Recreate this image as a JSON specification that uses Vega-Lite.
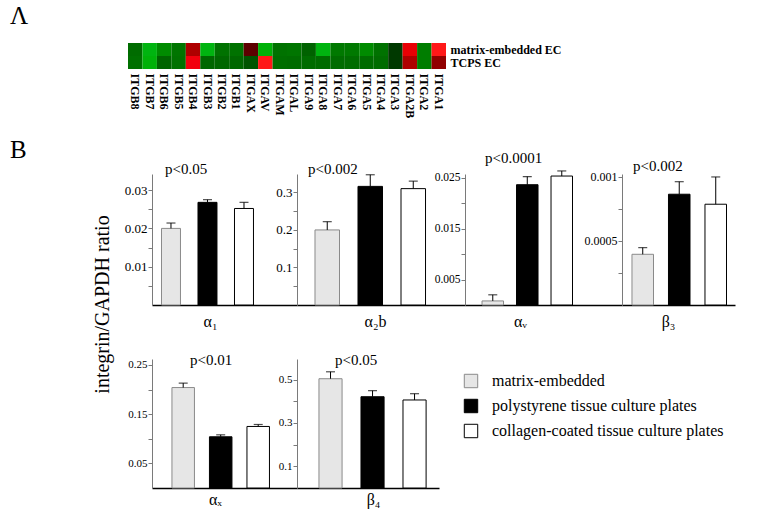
{
"$schema": "https://vega.github.io/schema/vega-lite/v6.json",
"padding": {"left": 10, "top": 4, "right": 5, "bottom": 5},
"background": "white",
"config": {"view": {"stroke": null}, "font": "Liberation Serif"},
"datasets": {
"heat": [
{"gene":"ITGB8","row":"matrix-embedded EC","value":-0.55},{"gene":"ITGB7","row":"matrix-embedded EC","value":-0.94},{"gene":"ITGB6","row":"matrix-embedded EC","value":-0.72},{"gene":"ITGB5","row":"matrix-embedded EC","value":-0.6},{"gene":"ITGB4","row":"matrix-embedded EC","value":0.55},{"gene":"ITGB3","row":"matrix-embedded EC","value":-0.94},{"gene":"ITGB2","row":"matrix-embedded EC","value":-0.58},{"gene":"ITGB1","row":"matrix-embedded EC","value":-0.58},{"gene":"ITGAX","row":"matrix-embedded EC","value":0.05},{"gene":"ITGAV","row":"matrix-embedded EC","value":-0.92},{"gene":"ITGAM","row":"matrix-embedded EC","value":-0.58},{"gene":"ITGAL","row":"matrix-embedded EC","value":-0.6},{"gene":"ITGA9","row":"matrix-embedded EC","value":-0.49},{"gene":"ITGA8","row":"matrix-embedded EC","value":-0.94},{"gene":"ITGA7","row":"matrix-embedded EC","value":-0.62},{"gene":"ITGA6","row":"matrix-embedded EC","value":-0.62},{"gene":"ITGA5","row":"matrix-embedded EC","value":-0.72},{"gene":"ITGA4","row":"matrix-embedded EC","value":-0.58},{"gene":"ITGA3","row":"matrix-embedded EC","value":-0.25},{"gene":"ITGA2B","row":"matrix-embedded EC","value":0.87},{"gene":"ITGA2","row":"matrix-embedded EC","value":-0.64},{"gene":"ITGA1","row":"matrix-embedded EC","value":1.0},
{"gene":"ITGB8","row":"TCPS EC","value":-0.57},{"gene":"ITGB7","row":"TCPS EC","value":-0.92},{"gene":"ITGB6","row":"TCPS EC","value":-0.5},{"gene":"ITGB5","row":"TCPS EC","value":-0.58},{"gene":"ITGB4","row":"TCPS EC","value":0.93},{"gene":"ITGB3","row":"TCPS EC","value":-0.52},{"gene":"ITGB2","row":"TCPS EC","value":-0.52},{"gene":"ITGB1","row":"TCPS EC","value":-0.52},{"gene":"ITGAX","row":"TCPS EC","value":-0.42},{"gene":"ITGAV","row":"TCPS EC","value":1.0},{"gene":"ITGAM","row":"TCPS EC","value":-0.56},{"gene":"ITGAL","row":"TCPS EC","value":-0.55},{"gene":"ITGA9","row":"TCPS EC","value":-0.55},{"gene":"ITGA8","row":"TCPS EC","value":-0.55},{"gene":"ITGA7","row":"TCPS EC","value":-0.55},{"gene":"ITGA6","row":"TCPS EC","value":-0.55},{"gene":"ITGA5","row":"TCPS EC","value":-0.55},{"gene":"ITGA4","row":"TCPS EC","value":-0.55},{"gene":"ITGA3","row":"TCPS EC","value":-0.25},{"gene":"ITGA2B","row":"TCPS EC","value":0.55},{"gene":"ITGA2","row":"TCPS EC","value":-0.64},{"gene":"ITGA1","row":"TCPS EC","value":0.38}
],
"bars": [
{"panel":"a1","condition":"matrix-embedded","mean":0.020,"upper":0.0214},
{"panel":"a1","condition":"polystyrene tissue culture plates","mean":0.0268,"upper":0.0275},
{"panel":"a1","condition":"collagen-coated tissue culture plates","mean":0.0252,"upper":0.0268},
{"panel":"a2b","condition":"matrix-embedded","mean":0.200,"upper":0.222},
{"panel":"a2b","condition":"polystyrene tissue culture plates","mean":0.316,"upper":0.347},
{"panel":"a2b","condition":"collagen-coated tissue culture plates","mean":0.310,"upper":0.330},
{"panel":"aV","condition":"matrix-embedded","mean":0.0008,"upper":0.002},
{"panel":"aV","condition":"polystyrene tissue culture plates","mean":0.0236,"upper":0.0252},
{"panel":"aV","condition":"collagen-coated tissue culture plates","mean":0.0253,"upper":0.0263},
{"panel":"b3","condition":"matrix-embedded","mean":0.000396,"upper":0.000448},
{"panel":"b3","condition":"polystyrene tissue culture plates","mean":0.000865,"upper":0.000963},
{"panel":"b3","condition":"collagen-coated tissue culture plates","mean":0.000787,"upper":0.001},
{"panel":"aX","condition":"matrix-embedded","mean":0.204,"upper":0.213},
{"panel":"aX","condition":"polystyrene tissue culture plates","mean":0.104,"upper":0.108},
{"panel":"aX","condition":"collagen-coated tissue culture plates","mean":0.125,"upper":0.129},
{"panel":"b4","condition":"matrix-embedded","mean":0.504,"upper":0.536},
{"panel":"b4","condition":"polystyrene tissue culture plates","mean":0.421,"upper":0.449},
{"panel":"b4","condition":"collagen-coated tissue culture plates","mean":0.406,"upper":0.435}
]
},
"bounds": "flush",
"spacing": 105,
"resolve": {"scale": {"fill": "independent", "stroke": "independent"}, "legend": {"fill": "independent", "stroke": "independent"}},
"vconcat": [
{
"width": 318, "height": 26,
"title": {"text": "Λ", "anchor": "start", "frame": "group", "dx": -118, "offset": -6, "baseline": "alphabetic", "fontSize": 25, "font": "Liberation Serif", "fontWeight": "normal", "color": "#000"},
"data": {"name": "heat"},
"mark": "rect",
"encoding": {
"x": {"field": "gene", "type": "nominal", "sort": ["ITGB8","ITGB7","ITGB6","ITGB5","ITGB4","ITGB3","ITGB2","ITGB1","ITGAX","ITGAV","ITGAM","ITGAL","ITGA9","ITGA8","ITGA7","ITGA6","ITGA5","ITGA4","ITGA3","ITGA2B","ITGA2","ITGA1"], "scale": {"padding": 0}, "axis": {"orient": "bottom", "labelAngle": 90, "ticks": false, "domain": false, "title": null, "labelFont": "Liberation Serif", "labelFontWeight": "bold", "labelFontSize": 12, "labelColor": "#000", "labelPadding": 4}},
"y": {"field": "row", "type": "nominal", "sort": ["matrix-embedded EC","TCPS EC"], "scale": {"padding": 0}, "axis": {"orient": "right", "ticks": false, "domain": false, "title": null, "labelFont": "Liberation Serif", "labelFontWeight": "bold", "labelFontSize": 12, "labelColor": "#000", "labelPadding": 4}},
"fill": {"field": "value", "type": "quantitative", "scale": {"domain": [-1, 0, 1], "range": ["#22c022", "#000000", "#ff1818"]}, "legend": null}
}
},
{
"bounds": "flush",
"align": "none",
"columns": 5,
"spacing": {"row": 54, "column": 0},
"resolve": {"scale": {"fill": "independent", "stroke": "independent"}, "legend": {"fill": "independent", "stroke": "independent"}},
"concat": [
{"width": 24, "height": 131, "title": {"text": "B", "anchor": "start", "frame": "group", "dx": -118, "offset": -9, "baseline": "alphabetic", "fontSize": 25, "font": "Liberation Serif", "fontWeight": "normal", "color": "#000"}, "data": {"values": []}, "mark": "text", "encoding": {}},
{
"width": 145, "height": 131,
"data": {"name": "bars"},
"transform": [{"filter": "datum.panel === 'a1'"}],
"title": {"text": "p<0.05", "anchor": "start", "frame": "group", "dx": 13, "offset": -15, "baseline": "alphabetic", "fontSize": 15, "font": "Liberation Serif", "fontWeight": "normal", "color": "#000"},
"encoding": {"x": {"field": "condition", "type": "nominal", "sort": null, "scale": {"domain": ["matrix-embedded","polystyrene tissue culture plates","collagen-coated tissue culture plates"], "paddingInner": 0.48, "paddingOuter": 0.726, "align": 0.179}, "axis": {"labels": false, "ticks": false, "domainColor": "#000", "domainWidth": 1.5, "title": "α₁", "titleX": 58, "titleY": 21, "titleFont": "Liberation Serif", "titleFontSize": 16, "titleFontWeight": "normal", "titleColor": "#000", "titleBaseline": "alphabetic", "titleAlign": "center"}}},
"layer": [
{"mark": {"type": "bar", "strokeWidth": 1}, "encoding": {
"y": {"field": "mean", "type": "quantitative", "scale": {"domain": [0, 0.0342], "nice": false}, "axis": {"values": [0.005,0.01,0.015,0.02,0.025,0.03], "labelExpr": "indexof([0.01,0.02,0.03], datum.value) >= 0 ? format(datum.value, '~g') : ''", "grid": false, "domainColor": "#7a7a7a", "tickColor": "#7a7a7a", "tickSize": 4, "labelColor": "#000", "labelFont": "Liberation Serif", "labelFontSize": 13, "labelPadding": 1, "title": "integrin/GAPDH ratio", "titleX": -50, "titleY": 130, "titleAngle": 270, "titleAlign": "center", "titleBaseline": "middle", "titleFont": "Liberation Serif", "titleFontSize": 20, "titleFontWeight": "normal", "titleColor": "#000"}},
"fill": {"field": "condition", "type": "nominal", "scale": {"domain": ["matrix-embedded","polystyrene tissue culture plates","collagen-coated tissue culture plates"], "range": ["#e6e6e6","#000000","#ffffff"]}, "legend": null},
"stroke": {"field": "condition", "type": "nominal", "scale": {"domain": ["matrix-embedded","polystyrene tissue culture plates","collagen-coated tissue culture plates"], "range": ["#8a8a8a","#000000","#000000"]}, "legend": null}}},
{"mark": {"type": "rule", "color": "#000", "strokeWidth": 1}, "encoding": {
"y": {"field": "mean", "type": "quantitative", "scale": {"domain": [0, 0.0342], "nice": false}, "axis": {"values": [0.005,0.01,0.015,0.02,0.025,0.03], "labelExpr": "indexof([0.01,0.02,0.03], datum.value) >= 0 ? format(datum.value, '~g') : ''", "grid": false, "domainColor": "#7a7a7a", "tickColor": "#7a7a7a", "tickSize": 4, "labelColor": "#000", "labelFont": "Liberation Serif", "labelFontSize": 13, "labelPadding": 1, "title": "integrin/GAPDH ratio", "titleX": -50, "titleY": 130, "titleAngle": 270, "titleAlign": "center", "titleBaseline": "middle", "titleFont": "Liberation Serif", "titleFontSize": 20, "titleFontWeight": "normal", "titleColor": "#000"}},
"y2": {"field": "upper"}}},
{"mark": {"type": "tick", "color": "#000", "size": 9, "thickness": 1.2}, "encoding": {
"y": {"field": "upper", "type": "quantitative", "scale": {"domain": [0, 0.0342], "nice": false}, "axis": {"values": [0.005,0.01,0.015,0.02,0.025,0.03], "labelExpr": "indexof([0.01,0.02,0.03], datum.value) >= 0 ? format(datum.value, '~g') : ''", "grid": false, "domainColor": "#7a7a7a", "tickColor": "#7a7a7a", "tickSize": 4, "labelColor": "#000", "labelFont": "Liberation Serif", "labelFontSize": 13, "labelPadding": 1, "title": "integrin/GAPDH ratio", "titleX": -50, "titleY": 130, "titleAngle": 270, "titleAlign": "center", "titleBaseline": "middle", "titleFont": "Liberation Serif", "titleFontSize": 20, "titleFontWeight": "normal", "titleColor": "#000"}}}}
]
},
{
"width": 168, "height": 131,
"data": {"name": "bars"},
"transform": [{"filter": "datum.panel === 'a2b'"}],
"title": {"text": "p<0.002", "anchor": "start", "frame": "group", "dx": 11, "offset": -15, "baseline": "alphabetic", "fontSize": 15, "font": "Liberation Serif", "fontWeight": "normal", "color": "#000"},
"encoding": {"x": {"field": "condition", "type": "nominal", "sort": null, "scale": {"domain": ["matrix-embedded","polystyrene tissue culture plates","collagen-coated tissue culture plates"], "paddingInner": 0.43, "paddingOuter": 0.668, "align": 0.313}, "axis": {"labels": false, "ticks": false, "domainColor": "#000", "domainWidth": 1.5, "title": "α₂b", "titleX": 78, "titleY": 21, "titleFont": "Liberation Serif", "titleFontSize": 16, "titleFontWeight": "normal", "titleColor": "#000", "titleBaseline": "alphabetic", "titleAlign": "center"}}},
"layer": [
{"mark": {"type": "bar", "strokeWidth": 1}, "encoding": {
"y": {"field": "mean", "type": "quantitative", "scale": {"domain": [0, 0.349], "nice": false}, "axis": {"values": [0.05,0.1,0.15,0.2,0.25,0.3], "labelExpr": "indexof([0.1,0.2,0.3], datum.value) >= 0 ? format(datum.value, '~g') : ''", "grid": false, "domainColor": "#7a7a7a", "tickColor": "#7a7a7a", "tickSize": 4, "labelColor": "#000", "labelFont": "Liberation Serif", "labelFontSize": 13, "labelPadding": 1, "title": null}},
"fill": {"field": "condition", "type": "nominal", "scale": {"domain": ["matrix-embedded","polystyrene tissue culture plates","collagen-coated tissue culture plates"], "range": ["#e6e6e6","#000000","#ffffff"]}, "legend": null},
"stroke": {"field": "condition", "type": "nominal", "scale": {"domain": ["matrix-embedded","polystyrene tissue culture plates","collagen-coated tissue culture plates"], "range": ["#8a8a8a","#000000","#000000"]}, "legend": null}}},
{"mark": {"type": "rule", "color": "#000", "strokeWidth": 1}, "encoding": {
"y": {"field": "mean", "type": "quantitative", "scale": {"domain": [0, 0.349], "nice": false}, "axis": {"values": [0.05,0.1,0.15,0.2,0.25,0.3], "labelExpr": "indexof([0.1,0.2,0.3], datum.value) >= 0 ? format(datum.value, '~g') : ''", "grid": false, "domainColor": "#7a7a7a", "tickColor": "#7a7a7a", "tickSize": 4, "labelColor": "#000", "labelFont": "Liberation Serif", "labelFontSize": 13, "labelPadding": 1, "title": null}},
"y2": {"field": "upper"}}},
{"mark": {"type": "tick", "color": "#000", "size": 9, "thickness": 1.2}, "encoding": {
"y": {"field": "upper", "type": "quantitative", "scale": {"domain": [0, 0.349], "nice": false}, "axis": {"values": [0.05,0.1,0.15,0.2,0.25,0.3], "labelExpr": "indexof([0.1,0.2,0.3], datum.value) >= 0 ? format(datum.value, '~g') : ''", "grid": false, "domainColor": "#7a7a7a", "tickColor": "#7a7a7a", "tickSize": 4, "labelColor": "#000", "labelFont": "Liberation Serif", "labelFontSize": 13, "labelPadding": 1, "title": null}}}}
]
},
{
"width": 157, "height": 131,
"data": {"name": "bars"},
"transform": [{"filter": "datum.panel === 'aV'"}],
"title": {"text": "p<0.0001", "anchor": "start", "frame": "group", "dx": 20, "offset": -8, "baseline": "alphabetic", "fontSize": 15, "font": "Liberation Serif", "fontWeight": "normal", "color": "#000"},
"encoding": {"x": {"field": "condition", "type": "nominal", "sort": null, "scale": {"domain": ["matrix-embedded","polystyrene tissue culture plates","collagen-coated tissue culture plates"], "paddingInner": 0.377, "paddingOuter": 0.964, "align": 0.256}, "axis": {"labels": false, "ticks": false, "domainColor": "#000", "domainWidth": 1.5, "title": "αᵥ", "titleX": 55, "titleY": 21, "titleFont": "Liberation Serif", "titleFontSize": 16, "titleFontWeight": "normal", "titleColor": "#000", "titleBaseline": "alphabetic", "titleAlign": "center"}}},
"layer": [
{"mark": {"type": "bar", "strokeWidth": 1}, "encoding": {
"y": {"field": "mean", "type": "quantitative", "scale": {"domain": [0, 0.0257], "nice": false}, "axis": {"values": [0.005,0.01,0.015,0.02,0.025], "labelExpr": "indexof([0.005,0.015,0.025], datum.value) >= 0 ? format(datum.value, '~g') : ''", "grid": false, "domainColor": "#7a7a7a", "tickColor": "#7a7a7a", "tickSize": 4, "labelColor": "#000", "labelFont": "Liberation Serif", "labelFontSize": 11.5, "labelPadding": 1, "title": null}},
"fill": {"field": "condition", "type": "nominal", "scale": {"domain": ["matrix-embedded","polystyrene tissue culture plates","collagen-coated tissue culture plates"], "range": ["#e6e6e6","#000000","#ffffff"]}, "legend": null},
"stroke": {"field": "condition", "type": "nominal", "scale": {"domain": ["matrix-embedded","polystyrene tissue culture plates","collagen-coated tissue culture plates"], "range": ["#8a8a8a","#000000","#000000"]}, "legend": null}}},
{"mark": {"type": "rule", "color": "#000", "strokeWidth": 1}, "encoding": {
"y": {"field": "mean", "type": "quantitative", "scale": {"domain": [0, 0.0257], "nice": false}, "axis": {"values": [0.005,0.01,0.015,0.02,0.025], "labelExpr": "indexof([0.005,0.015,0.025], datum.value) >= 0 ? format(datum.value, '~g') : ''", "grid": false, "domainColor": "#7a7a7a", "tickColor": "#7a7a7a", "tickSize": 4, "labelColor": "#000", "labelFont": "Liberation Serif", "labelFontSize": 11.5, "labelPadding": 1, "title": null}},
"y2": {"field": "upper"}}},
{"mark": {"type": "tick", "color": "#000", "size": 9, "thickness": 1.2}, "encoding": {
"y": {"field": "upper", "type": "quantitative", "scale": {"domain": [0, 0.0257], "nice": false}, "axis": {"values": [0.005,0.01,0.015,0.02,0.025], "labelExpr": "indexof([0.005,0.015,0.025], datum.value) >= 0 ? format(datum.value, '~g') : ''", "grid": false, "domainColor": "#7a7a7a", "tickColor": "#7a7a7a", "tickSize": 4, "labelColor": "#000", "labelFont": "Liberation Serif", "labelFontSize": 11.5, "labelPadding": 1, "title": null}}}}
]
},
{
"width": 113, "height": 131,
"data": {"name": "bars"},
"transform": [{"filter": "datum.panel === 'b3'"}],
"title": {"text": "p<0.002", "anchor": "start", "frame": "group", "dx": 11, "offset": -15, "baseline": "alphabetic", "fontSize": 15, "font": "Liberation Serif", "fontWeight": "normal", "color": "#000"},
"encoding": {"x": {"field": "condition", "type": "nominal", "sort": null, "scale": {"domain": ["matrix-embedded","polystyrene tissue culture plates","collagen-coated tissue culture plates"], "paddingInner": 0.41, "paddingOuter": 0.253, "align": 0.54}, "axis": {"labels": false, "ticks": false, "domainColor": "#000", "domainWidth": 1.5, "title": "β₃", "titleX": 46, "titleY": 21, "titleFont": "Liberation Serif", "titleFontSize": 16, "titleFontWeight": "normal", "titleColor": "#000", "titleBaseline": "alphabetic", "titleAlign": "center"}}},
"layer": [
{"mark": {"type": "bar", "strokeWidth": 1}, "encoding": {
"y": {"field": "mean", "type": "quantitative", "scale": {"domain": [0, 0.001023], "nice": false}, "axis": {"values": [0.00025,0.0005,0.00075,0.001], "labelExpr": "indexof([0.0005,0.001], datum.value) >= 0 ? format(datum.value, '~g') : ''", "grid": false, "domainColor": "#7a7a7a", "tickColor": "#7a7a7a", "tickSize": 4, "labelColor": "#000", "labelFont": "Liberation Serif", "labelFontSize": 12, "labelPadding": 1, "title": null}},
"fill": {"field": "condition", "type": "nominal", "scale": {"domain": ["matrix-embedded","polystyrene tissue culture plates","collagen-coated tissue culture plates"], "range": ["#e6e6e6","#000000","#ffffff"]}, "legend": null},
"stroke": {"field": "condition", "type": "nominal", "scale": {"domain": ["matrix-embedded","polystyrene tissue culture plates","collagen-coated tissue culture plates"], "range": ["#8a8a8a","#000000","#000000"]}, "legend": null}}},
{"mark": {"type": "rule", "color": "#000", "strokeWidth": 1}, "encoding": {
"y": {"field": "mean", "type": "quantitative", "scale": {"domain": [0, 0.001023], "nice": false}, "axis": {"values": [0.00025,0.0005,0.00075,0.001], "labelExpr": "indexof([0.0005,0.001], datum.value) >= 0 ? format(datum.value, '~g') : ''", "grid": false, "domainColor": "#7a7a7a", "tickColor": "#7a7a7a", "tickSize": 4, "labelColor": "#000", "labelFont": "Liberation Serif", "labelFontSize": 12, "labelPadding": 1, "title": null}},
"y2": {"field": "upper"}}},
{"mark": {"type": "tick", "color": "#000", "size": 9, "thickness": 1.2}, "encoding": {
"y": {"field": "upper", "type": "quantitative", "scale": {"domain": [0, 0.001023], "nice": false}, "axis": {"values": [0.00025,0.0005,0.00075,0.001], "labelExpr": "indexof([0.0005,0.001], datum.value) >= 0 ? format(datum.value, '~g') : ''", "grid": false, "domainColor": "#7a7a7a", "tickColor": "#7a7a7a", "tickSize": 4, "labelColor": "#000", "labelFont": "Liberation Serif", "labelFontSize": 12, "labelPadding": 1, "title": null}}}}
]
},
{"width": 24, "height": 129, "data": {"values": []}, "mark": "text", "encoding": {}},
{
"width": 145, "height": 129,
"data": {"name": "bars"},
"transform": [{"filter": "datum.panel === 'aX'"}],
"title": {"text": "p<0.01", "anchor": "start", "frame": "group", "dx": 38, "offset": -21, "baseline": "alphabetic", "fontSize": 15, "font": "Liberation Serif", "fontWeight": "normal", "color": "#000"},
"encoding": {"x": {"field": "condition", "type": "nominal", "sort": null, "scale": {"domain": ["matrix-embedded","polystyrene tissue culture plates","collagen-coated tissue culture plates"], "paddingInner": 0.4, "paddingOuter": 0.633, "align": 0.42}, "axis": {"labels": false, "ticks": false, "domainColor": "#000", "domainWidth": 1.5, "title": "αₓ", "titleX": 63, "titleY": 16, "titleFont": "Liberation Serif", "titleFontSize": 16, "titleFontWeight": "normal", "titleColor": "#000", "titleBaseline": "alphabetic", "titleAlign": "center"}}},
"layer": [
{"mark": {"type": "bar", "strokeWidth": 1}, "encoding": {
"y": {"field": "mean", "type": "quantitative", "scale": {"domain": [0, 0.262], "nice": false}, "axis": {"values": [0.05,0.1,0.15,0.2,0.25], "labelExpr": "indexof([0.05,0.15,0.25], datum.value) >= 0 ? format(datum.value, '~g') : ''", "grid": false, "domainColor": "#7a7a7a", "tickColor": "#7a7a7a", "tickSize": 4, "labelColor": "#000", "labelFont": "Liberation Serif", "labelFontSize": 11, "labelPadding": 1, "title": null}},
"fill": {"field": "condition", "type": "nominal", "scale": {"domain": ["matrix-embedded","polystyrene tissue culture plates","collagen-coated tissue culture plates"], "range": ["#e6e6e6","#000000","#ffffff"]}, "legend": null},
"stroke": {"field": "condition", "type": "nominal", "scale": {"domain": ["matrix-embedded","polystyrene tissue culture plates","collagen-coated tissue culture plates"], "range": ["#8a8a8a","#000000","#000000"]}, "legend": null}}},
{"mark": {"type": "rule", "color": "#000", "strokeWidth": 1}, "encoding": {
"y": {"field": "mean", "type": "quantitative", "scale": {"domain": [0, 0.262], "nice": false}, "axis": {"values": [0.05,0.1,0.15,0.2,0.25], "labelExpr": "indexof([0.05,0.15,0.25], datum.value) >= 0 ? format(datum.value, '~g') : ''", "grid": false, "domainColor": "#7a7a7a", "tickColor": "#7a7a7a", "tickSize": 4, "labelColor": "#000", "labelFont": "Liberation Serif", "labelFontSize": 11, "labelPadding": 1, "title": null}},
"y2": {"field": "upper"}}},
{"mark": {"type": "tick", "color": "#000", "size": 9, "thickness": 1.2}, "encoding": {
"y": {"field": "upper", "type": "quantitative", "scale": {"domain": [0, 0.262], "nice": false}, "axis": {"values": [0.05,0.1,0.15,0.2,0.25], "labelExpr": "indexof([0.05,0.15,0.25], datum.value) >= 0 ? format(datum.value, '~g') : ''", "grid": false, "domainColor": "#7a7a7a", "tickColor": "#7a7a7a", "tickSize": 4, "labelColor": "#000", "labelFont": "Liberation Serif", "labelFontSize": 11, "labelPadding": 1, "title": null}}}}
]
},
{
"width": 142, "height": 129,
"data": {"name": "bars"},
"transform": [{"filter": "datum.panel === 'b4'"}],
"title": {"text": "p<0.05", "anchor": "start", "frame": "group", "dx": 38, "offset": -21, "baseline": "alphabetic", "fontSize": 15, "font": "Liberation Serif", "fontWeight": "normal", "color": "#000"},
"encoding": {"x": {"field": "condition", "type": "nominal", "sort": null, "scale": {"domain": ["matrix-embedded","polystyrene tissue culture plates","collagen-coated tissue culture plates"], "paddingInner": 0.45, "paddingOuter": 0.415, "align": 0.63}, "axis": {"labels": false, "ticks": false, "domainColor": "#000", "domainWidth": 1.5, "title": "β₄", "titleX": 76, "titleY": 16, "titleFont": "Liberation Serif", "titleFontSize": 16, "titleFontWeight": "normal", "titleColor": "#000", "titleBaseline": "alphabetic", "titleAlign": "center"}}},
"layer": [
{"mark": {"type": "bar", "strokeWidth": 1}, "encoding": {
"y": {"field": "mean", "type": "quantitative", "scale": {"domain": [0, 0.595], "nice": false}, "axis": {"values": [0.1,0.2,0.3,0.4,0.5], "labelExpr": "indexof([0.1,0.3,0.5], datum.value) >= 0 ? format(datum.value, '~g') : ''", "grid": false, "domainColor": "#7a7a7a", "tickColor": "#7a7a7a", "tickSize": 4, "labelColor": "#000", "labelFont": "Liberation Serif", "labelFontSize": 11, "labelPadding": 1, "title": null}},
"fill": {"field": "condition", "type": "nominal", "title": null, "scale": {"domain": ["matrix-embedded","polystyrene tissue culture plates","collagen-coated tissue culture plates"], "range": ["#e6e6e6","#000000","#ffffff"]}, "legend": {"orient": "none", "legendX": 166, "legendY": 14, "padding": 0, "symbolType": "square", "symbolSize": 180, "symbolStrokeWidth": 1, "labelFont": "Liberation Serif", "labelFontSize": 16, "labelColor": "#000", "labelLimit": 400, "labelOffset": 13, "rowPadding": 7, "title": null}},
"stroke": {"field": "condition", "type": "nominal", "title": null, "scale": {"domain": ["matrix-embedded","polystyrene tissue culture plates","collagen-coated tissue culture plates"], "range": ["#8a8a8a","#000000","#000000"]}, "legend": {"orient": "none", "legendX": 166, "legendY": 14, "padding": 0, "symbolType": "square", "symbolSize": 180, "symbolStrokeWidth": 1, "labelFont": "Liberation Serif", "labelFontSize": 16, "labelColor": "#000", "labelLimit": 400, "labelOffset": 13, "rowPadding": 7, "title": null}}}},
{"mark": {"type": "rule", "color": "#000", "strokeWidth": 1}, "encoding": {
"y": {"field": "mean", "type": "quantitative", "scale": {"domain": [0, 0.595], "nice": false}, "axis": {"values": [0.1,0.2,0.3,0.4,0.5], "labelExpr": "indexof([0.1,0.3,0.5], datum.value) >= 0 ? format(datum.value, '~g') : ''", "grid": false, "domainColor": "#7a7a7a", "tickColor": "#7a7a7a", "tickSize": 4, "labelColor": "#000", "labelFont": "Liberation Serif", "labelFontSize": 11, "labelPadding": 1, "title": null}},
"y2": {"field": "upper"}}},
{"mark": {"type": "tick", "color": "#000", "size": 9, "thickness": 1.2}, "encoding": {
"y": {"field": "upper", "type": "quantitative", "scale": {"domain": [0, 0.595], "nice": false}, "axis": {"values": [0.1,0.2,0.3,0.4,0.5], "labelExpr": "indexof([0.1,0.3,0.5], datum.value) >= 0 ? format(datum.value, '~g') : ''", "grid": false, "domainColor": "#7a7a7a", "tickColor": "#7a7a7a", "tickSize": 4, "labelColor": "#000", "labelFont": "Liberation Serif", "labelFontSize": 11, "labelPadding": 1, "title": null}}}}
]
},
{"width": 1, "height": 1, "data": {"values": []}, "mark": "text", "encoding": {}},
{"width": 1, "height": 1, "data": {"values": []}, "mark": "text", "encoding": {}}
]
}
]
}
